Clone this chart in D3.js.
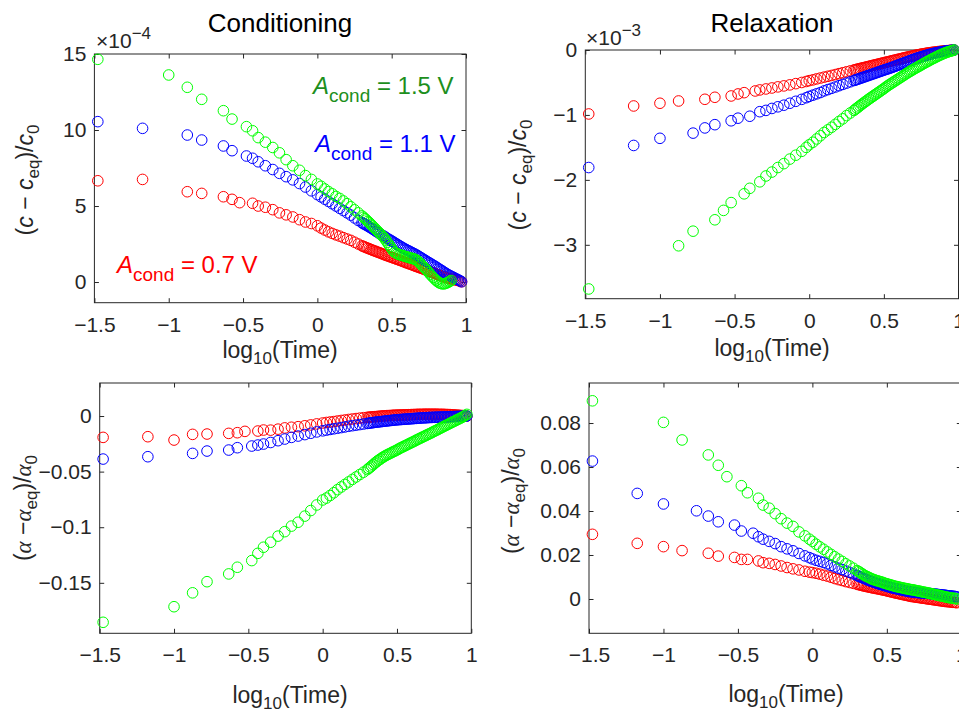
<!DOCTYPE html>
<html><head><meta charset="utf-8">
<script src="https://cdn.jsdelivr.net/npm/d3@7"></script>
<style>
body{margin:0;background:#fff}
svg{display:block}
text{font-family:"Liberation Sans",Arial,Helvetica,sans-serif}
</style>
</head><body>
<svg id="chart" width="959" height="713"></svg>
<script>
// ---------- DATA (log10 time) ----------
const condT = [-1.477,-1.176,-1.0,-0.875,-0.778,-0.632,-0.574,-0.523,-0.477,-0.436,-0.398,
  -0.35,-0.30,-0.255,-0.21,-0.165,-0.12,-0.08,-0.04,0.0,
  0.025,0.05,0.075,0.10,0.125,0.15,0.175,0.20,0.225,0.25,0.275,0.30,
  0.31,0.32,0.33,0.34,0.35,0.36,0.37,0.38,0.39,0.40,
  0.41,0.42,0.43,0.44,0.45,0.46,0.47,0.48,0.49,0.50,
  0.51,0.52,0.53,0.54,0.55,0.56,0.57,0.58,0.59,0.60,
  0.61,0.62,0.63,0.64,0.65,0.66,0.67,0.68,0.69,0.70,
  0.71,0.72,0.73,0.74,0.75,0.76,0.77,0.78,0.79,0.80,
  0.81,0.82,0.83,0.84,0.85,0.86,0.87,0.88,0.89,0.90,
  0.91,0.92,0.93,0.94,0.95,0.96,0.97];
const relT = [-1.477,-1.176,-1.0,-0.875,-0.778,-0.699,-0.632,-0.574,-0.523,-0.477,-0.436,-0.398,-0.362,-0.331,
  -0.29,-0.25,-0.21,-0.17,-0.13,-0.09,-0.05,-0.02,0.0,
  0.025,0.05,0.075,0.10,0.125,0.15,0.175,0.20,0.225,0.25,0.275,0.30,
  0.31,0.32,0.33,0.34,0.35,0.36,0.37,0.38,0.39,0.40,
  0.41,0.42,0.43,0.44,0.45,0.46,0.47,0.48,0.49,0.50,
  0.51,0.52,0.53,0.54,0.55,0.56,0.57,0.58,0.59,0.60,
  0.61,0.62,0.63,0.64,0.65,0.66,0.67,0.68,0.69,0.70,
  0.71,0.72,0.73,0.74,0.75,0.76,0.77,0.78,0.79,0.80,
  0.81,0.82,0.83,0.84,0.85,0.86,0.87,0.88,0.89,0.90,
  0.91,0.92,0.93,0.94,0.95,0.96,0.97];

// Conditioning, (c - c_eq)/c0  [x1e-4]
const condCRed = [6.66,6.75,null,5.94,5.83,5.61,5.44,5.22,null,5.18,5.0,
  4.92,4.76,4.55,4.42,4.28,4.1,3.95,3.85,3.7,
  3.55,3.42,3.3,3.2,3.1,3.02,2.92,2.83,2.74,2.62,2.5,2.38,
  2.34,2.30,2.26,2.22,2.18,2.14,2.10,2.06,2.03,1.99,
  1.95,1.92,1.88,1.84,1.80,1.76,1.73,1.69,1.66,1.62,
  1.59,1.55,1.52,1.48,1.45,1.41,1.38,1.34,1.30,1.26,
  1.23,1.19,1.16,1.12,1.08,1.04,1.01,0.97,0.94,0.90,
  0.87,0.83,0.79,0.75,0.72,0.68,0.64,0.60,0.56,0.52,
  0.49,0.45,0.42,0.38,0.35,0.31,0.28,0.25,0.22,0.20,
  0.18,0.16,0.14,0.12,0.09,0.06,0.02];
const condCBlue = [10.55,10.11,null,9.67,9.34,8.95,8.64,null,8.29,8.14,7.91,
  7.65,7.4,7.15,6.93,6.72,6.48,6.25,6.0,5.75,
  5.6,5.45,5.3,5.15,5.0,4.85,4.7,4.55,4.4,4.22,4.05,3.9,
  3.84,3.79,3.73,3.68,3.62,3.56,3.50,3.44,3.37,3.31,
  3.25,3.18,3.12,3.06,3.0,2.94,2.87,2.81,2.76,2.7,
  2.64,2.58,2.52,2.46,2.40,2.34,2.28,2.22,2.17,2.12,
  2.07,2.02,1.97,1.92,1.87,1.82,1.76,1.7,1.64,1.58,
  1.52,1.46,1.40,1.34,1.28,1.22,1.16,1.1,1.04,0.98,
  0.91,0.85,0.79,0.73,0.66,0.6,0.54,0.48,0.43,0.38,
  0.33,0.28,0.23,0.18,0.13,0.08,0.02];
const condCGreen = [14.65,null,13.62,12.81,12.02,11.27,10.72,null,10.22,9.95,9.5,
  9.2,8.85,8.5,8.05,7.65,7.35,7.0,6.75,6.45,
  6.3,6.12,5.95,5.8,5.63,5.5,5.33,5.15,4.95,4.75,4.55,4.35,
  4.26,4.17,4.08,3.99,3.9,3.8,3.7,3.6,3.5,3.4,
  3.3,3.2,3.1,3.0,2.9,2.76,2.62,2.48,2.34,2.2,
  2.07,1.95,1.9,1.85,1.81,1.78,1.75,1.72,1.69,1.66,
  1.63,1.6,1.57,1.55,1.52,1.48,1.42,1.35,1.25,1.15,
  1.05,0.95,0.85,0.75,0.62,0.5,0.4,0.3,0.2,0.1,
  0.02,-0.05,-0.09,-0.12,-0.12,-0.1,-0.06,-0.02,0.04,0.1,
  null,null,null,null,null,null,null];

// Conditioning, (alpha - alpha_eq)/alpha0
const condARed = [-0.0192,-0.0186,-0.0216,-0.0165,-0.0162,-0.0156,-0.015,-0.0138,null,-0.0135,-0.0126,
  -0.0127,-0.0118,-0.0107,-0.0101,-0.0096,-0.0088,-0.008,-0.0071,-0.0063,
  -0.0058,-0.0054,-0.005,-0.0045,-0.004,-0.0036,-0.0031,-0.0027,-0.0023,-0.0019,-0.0015,-0.0012,
  -0.0011,-0.001,-0.0008,-0.0007,-0.0006,-0.0005,-0.0004,-0.0003,-0.0001,0.0,
  0.0001,0.0002,0.0003,0.0004,0.0004,0.0005,0.0006,0.0007,0.0007,0.0008,
  0.0008,0.0009,0.0009,0.001,0.001,0.0011,0.0011,0.0012,0.0012,0.0013,
  0.0013,0.0014,0.0014,0.0015,0.0015,0.0015,0.0015,0.0016,0.0016,0.0016,
  0.0016,0.0016,0.0016,0.0016,0.0016,0.0016,0.0016,0.0015,0.0015,0.0015,
  0.0015,0.0014,0.0014,0.0013,0.0013,0.0012,0.0011,0.001,0.0009,0.0008,
  0.0007,0.0006,0.0005,0.0004,0.0003,0.0002,0.0];
const condABlue = [-0.0387,-0.0366,null,-0.0336,-0.0315,-0.0306,-0.0285,null,-0.027,-0.0261,-0.0252,
  -0.0238,-0.0222,-0.0207,-0.0192,-0.018,-0.0167,-0.0155,-0.0143,-0.0133,
  -0.0127,-0.0121,-0.0115,-0.011,-0.0104,-0.0098,-0.0092,-0.0087,-0.0082,-0.0077,-0.0072,-0.0067,
  -0.0065,-0.0063,-0.0061,-0.0059,-0.0057,-0.0055,-0.0054,-0.0052,-0.0051,-0.0049,
  -0.0047,-0.0046,-0.0044,-0.0043,-0.0041,-0.004,-0.0038,-0.0037,-0.0035,-0.0034,
  -0.0033,-0.0032,-0.0031,-0.003,-0.0029,-0.0028,-0.0027,-0.0026,-0.0025,-0.0024,
  -0.0023,-0.0022,-0.0021,-0.002,-0.0019,-0.0018,-0.0017,-0.0016,-0.0016,-0.0015,
  -0.0014,-0.0013,-0.0013,-0.0012,-0.0012,-0.0011,-0.0011,-0.001,-0.001,-0.0009,
  -0.0009,-0.0008,-0.0008,-0.0007,-0.0007,-0.0006,-0.0006,-0.0005,-0.0005,-0.0004,
  -0.0004,-0.0003,-0.0003,-0.0002,-0.0002,-0.0001,0.0];
const condAGreen = [-0.1855,null,-0.1715,-0.159,-0.149,-0.142,-0.136,null,-0.13,-0.1235,-0.118,
  -0.1135,-0.108,-0.104,-0.099,-0.0955,-0.09,-0.085,-0.08,-0.0755,
  -0.0738,-0.0715,-0.069,-0.0662,-0.0638,-0.0615,-0.0593,-0.057,-0.0548,-0.0526,-0.0505,-0.0482,
  -0.0471,-0.046,-0.0449,-0.0437,-0.0425,-0.0414,-0.0403,-0.0394,-0.0385,-0.0375,
  -0.0367,-0.0359,-0.0352,-0.0345,-0.0338,-0.0332,-0.0325,-0.0318,-0.0312,-0.0305,
  -0.0298,-0.029,-0.0283,-0.0277,-0.027,-0.0264,-0.0257,-0.025,-0.0244,-0.0237,
  -0.0231,-0.0224,-0.0217,-0.021,-0.0204,-0.0197,-0.0191,-0.0184,-0.0178,-0.0171,
  -0.0165,-0.0158,-0.0152,-0.0145,-0.0138,-0.0131,-0.0125,-0.0118,-0.0111,-0.0104,
  -0.0097,-0.009,-0.0084,-0.0077,-0.007,-0.0063,-0.0057,-0.005,-0.0044,-0.0037,
  -0.003,-0.0024,-0.0017,-0.001,-0.0003,0.0005,0.0015];

// Relaxation, (c - c_eq)/c0  [x1e-3]
const relCRed = [-0.985,-0.862,-0.82,-0.785,null,-0.759,-0.728,null,-0.708,-0.677,-0.657,null,-0.631,-0.615,
  -0.6,-0.585,-0.568,-0.553,-0.537,-0.518,-0.5,-0.485,-0.472,
  -0.46,-0.445,-0.432,-0.418,-0.405,-0.392,-0.378,-0.364,-0.35,-0.336,-0.322,-0.308,
  -0.302,-0.297,-0.291,-0.286,-0.28,-0.274,-0.269,-0.263,-0.258,-0.252,
  -0.246,-0.241,-0.235,-0.229,-0.224,-0.218,-0.213,-0.207,-0.202,-0.196,
  -0.19,-0.185,-0.18,-0.174,-0.168,-0.163,-0.158,-0.152,-0.146,-0.141,
  -0.136,-0.13,-0.124,-0.119,-0.114,-0.108,-0.103,-0.098,-0.093,-0.088,
  -0.083,-0.078,-0.073,-0.069,-0.064,-0.06,-0.056,-0.052,-0.048,-0.045,
  -0.041,-0.038,-0.035,-0.032,-0.029,-0.026,-0.023,-0.021,-0.018,-0.016,
  -0.013,-0.011,-0.009,-0.007,-0.005,-0.003,0.0];
const relCBlue = [-1.81,-1.47,-1.36,null,-1.28,-1.2,-1.15,null,-1.09,-1.05,null,-1.02,null,-0.95,
  -0.93,-0.9,-0.875,-0.85,-0.82,-0.79,-0.76,-0.735,-0.715,
  -0.695,-0.675,-0.655,-0.63,-0.61,-0.59,-0.57,-0.55,-0.53,-0.51,-0.49,-0.47,
  -0.462,-0.454,-0.446,-0.438,-0.43,-0.422,-0.414,-0.406,-0.398,-0.39,
  -0.382,-0.374,-0.366,-0.358,-0.35,-0.342,-0.334,-0.326,-0.318,-0.31,
  -0.302,-0.295,-0.288,-0.28,-0.272,-0.263,-0.255,-0.246,-0.238,-0.229,
  -0.22,-0.212,-0.203,-0.195,-0.186,-0.178,-0.169,-0.16,-0.152,-0.144,
  -0.136,-0.128,-0.12,-0.113,-0.106,-0.099,-0.092,-0.085,-0.078,-0.072,
  -0.066,-0.06,-0.054,-0.049,-0.044,-0.039,-0.034,-0.03,-0.026,-0.022,
  -0.018,-0.015,-0.012,-0.009,-0.006,-0.004,0.0];
const relCGreen = [-3.68,null,null,-3.015,-2.79,null,-2.615,-2.47,-2.35,null,-2.215,-2.13,null,-2.03,
  -1.94,-1.88,-1.81,-1.75,-1.68,-1.62,-1.56,-1.5,-1.46,
  -1.42,-1.37,-1.32,-1.27,-1.23,-1.19,-1.145,-1.1,-1.06,-1.01,-0.97,-0.93,
  -0.912,-0.894,-0.876,-0.858,-0.84,-0.822,-0.806,-0.789,-0.772,-0.755,
  -0.739,-0.723,-0.707,-0.691,-0.675,-0.659,-0.643,-0.627,-0.611,-0.595,
  -0.578,-0.56,-0.545,-0.53,-0.515,-0.5,-0.485,-0.47,-0.455,-0.44,
  -0.425,-0.41,-0.395,-0.38,-0.365,-0.35,-0.336,-0.323,-0.309,-0.296,
  -0.283,-0.27,-0.257,-0.244,-0.231,-0.218,-0.205,-0.192,-0.18,-0.167,
  -0.155,-0.143,-0.131,-0.12,-0.108,-0.097,-0.086,-0.075,-0.065,-0.055,
  -0.046,-0.037,-0.029,-0.022,-0.015,-0.009,0.0];

// Relaxation, (alpha - alpha_eq)/alpha0
const relARed = [0.0294,0.0253,0.0238,0.022,null,0.0208,0.0195,null,0.0189,0.018,0.018,null,0.0173,0.0165,
  0.0162,0.0157,0.015,0.0143,0.0137,0.0132,0.0126,0.0122,0.012,
  0.0117,0.0113,0.0108,0.0104,0.0099,0.0093,0.0088,0.0084,0.0079,0.0075,0.0071,0.0067,
  0.0065,0.0064,0.0062,0.006,0.0059,0.0057,0.0056,0.0054,0.0053,0.0051,
  0.005,0.0049,0.0047,0.0046,0.0045,0.0043,0.0042,0.004,0.0039,0.0037,
  0.0035,0.0034,0.0032,0.0031,0.0029,0.0027,0.0026,0.0024,0.0023,0.0021,
  0.002,0.0018,0.0017,0.0015,0.0014,0.0012,0.0011,0.001,0.0009,0.0008,
  0.0007,0.0006,0.0005,0.0004,0.0003,0.0002,0.0001,0.0,-0.0001,-0.0002,
  -0.0003,-0.0004,-0.0005,-0.0006,-0.0007,-0.0008,-0.0009,-0.001,-0.0011,-0.0012,
  -0.0012,-0.0013,-0.0014,-0.0015,-0.0015,-0.0016,-0.0017];
const relABlue = [0.0627,0.048,0.0432,null,0.0401,0.0377,0.0351,null,0.0336,0.0309,null,0.0299,0.0283,0.0272,
  0.0262,0.0252,0.0238,0.0228,0.0219,0.0207,0.0196,0.0188,0.0182,
  0.0176,0.0171,0.0166,0.016,0.0153,0.0146,0.014,0.0134,0.0127,0.0121,0.0114,0.0107,
  0.0104,0.0101,0.0098,0.0096,0.0093,0.009,0.0087,0.0084,0.0082,0.008,
  0.0077,0.0075,0.0072,0.007,0.0068,0.0066,0.0064,0.0062,0.006,0.0058,
  0.0056,0.0054,0.0052,0.005,0.0049,0.0047,0.0046,0.0044,0.0043,0.0041,
  0.004,0.0038,0.0037,0.0035,0.0034,0.0033,0.0032,0.0031,0.0031,0.003,
  0.0029,0.0028,0.0028,0.0027,0.0027,0.0026,0.0026,0.0025,0.0025,0.0024,
  0.0023,0.0022,0.0022,0.0021,0.002,0.0019,0.0019,0.0018,0.0017,0.0016,
  0.0015,0.0014,0.0014,0.0013,0.0012,0.0011,0.001];
const relAGreen = [0.0901,null,0.0803,0.0723,null,0.0655,0.0608,0.0556,null,0.0515,0.0483,null,0.0458,0.0427,
  0.0413,0.0388,0.0365,0.0345,0.033,0.0305,0.0287,0.0272,0.0262,
  0.0249,0.0237,0.0226,0.0214,0.0203,0.0192,0.0181,0.0171,0.016,0.015,0.014,0.0129,
  0.0125,0.0121,0.0116,0.0112,0.0107,0.0104,0.0101,0.0098,0.0094,0.0091,
  0.0089,0.0086,0.0084,0.0082,0.008,0.0078,0.0076,0.0073,0.0071,0.0069,
  0.0067,0.0065,0.0063,0.0061,0.0059,0.0057,0.0056,0.0054,0.0053,0.0051,
  0.005,0.0048,0.0047,0.0046,0.0044,0.0043,0.0042,0.0041,0.0039,0.0038,
  0.0037,0.0035,0.0034,0.0032,0.0031,0.003,0.0028,0.0027,0.0025,0.0024,
  0.0022,0.0021,0.0019,0.0018,0.0016,0.0015,0.0013,0.0012,0.001,0.0009,
  0.0007,0.0006,0.0005,0.0004,0.0003,0.0002,0.0];

// Tick values
const xTickVals = [-1.5,-1,-0.5,0,0.5,1];
const condCTicks = [0,5,10,15];
const relCTicks = [-3,-2,-1,0];
const condATicks = [-0.15,-0.1,-0.05,0];
const relATicks = [0,0.02,0.04,0.06,0.08];

const seriesColors = ["#ff0000","#0000ff","#00ff00"];
const titles = ["Conditioning","Relaxation"];
const annotations = [
  {label:"1.5", color:"#1d8f1d"},
  {label:"1.1", color:"#0000ff"},
  {label:"0.7", color:"#ff0000"}
];

// ---------- LAYOUT ----------
const AX = "#262626";
const svg = d3.select("#chart");
const fmt = d => d === 0 ? "0" : String(d).replace("-", "\u2212");

const panels = [
  {t:condT, ys:[condCRed,condCBlue,condCGreen], xr:[94.4,466], yr:[302.7,54], yd:[-1.36,15], yt:condCTicks,
   kind:"c", exp:"\u22124", expX:96, expY:48, ylx:33, yly:180, xlx:280, xly:358},
  {t:relT, ys:[relCRed,relCBlue,relCGreen], xr:[585.3,958.5], yr:[298.7,50], yd:[-3.83,0], yt:relCTicks,
   kind:"c", exp:"\u22123", expX:586, expY:45, ylx:526, yly:175, xlx:772, xly:356},
  {t:condT, ys:[condARed,condABlue,condAGreen], xr:[99.7,471.3], yr:[633.3,383], yd:[-0.1954,0.0297], yt:condATicks,
   kind:"a", ylx:31, yly:508, xlx:290, xly:703},
  {t:relT, ys:[relARed,relABlue,relAGreen], xr:[589,961.3], yr:[633.3,383], yd:[-0.0156,0.0982], yt:relATicks,
   kind:"a", ylx:519, yly:501, xlx:786, xly:702}
];

panels.forEach((p) => {
  const x = d3.scaleLinear().domain([-1.5,1]).range(p.xr);
  const y = d3.scaleLinear().domain(p.yd).range(p.yr);
  const g = svg.append("g");
  const tick = 4.5;

  const styleAxis = (sel) => {
    sel.select(".domain").remove();
    sel.selectAll(".tick line").attr("stroke", AX).attr("stroke-width", 1);
    sel.selectAll(".tick text").attr("fill", AX);
    sel.attr("font-size", 21).attr("font-family", '"Liberation Sans",Arial,sans-serif');
  };

  g.append("g").attr("transform", `translate(0,${p.yr[0]})`)
    .call(d3.axisBottom(x).tickValues(xTickVals).tickFormat(fmt).tickSizeInner(-tick).tickSizeOuter(0).tickPadding(14))
    .call(styleAxis);
  g.append("g").attr("transform", `translate(0,${p.yr[1]})`)
    .call(d3.axisTop(x).tickValues(xTickVals).tickFormat("").tickSizeInner(-tick).tickSizeOuter(0))
    .call(styleAxis);
  g.append("g").attr("transform", `translate(${p.xr[0]},0)`)
    .call(d3.axisLeft(y).tickValues(p.yt).tickFormat(fmt).tickSizeInner(-tick).tickSizeOuter(0).tickPadding(8))
    .call(styleAxis);
  g.append("g").attr("transform", `translate(${p.xr[1]},0)`)
    .call(d3.axisRight(y).tickValues(p.yt).tickFormat("").tickSizeInner(-tick).tickSizeOuter(0))
    .call(styleAxis);

  g.append("rect").attr("x", p.xr[0]).attr("y", p.yr[1])
    .attr("width", p.xr[1]-p.xr[0]).attr("height", p.yr[0]-p.yr[1])
    .attr("fill","none").attr("stroke", AX).attr("stroke-width", 1);

  // markers: red, blue, green (green on top)
  p.ys.forEach((vals, si) => {
    const pts = p.t.map((tv, i) => [tv, vals[i]]).filter(d => d[1] !== null && d[1] !== undefined);
    g.append("g").selectAll("circle").data(pts).join("circle")
      .attr("cx", d => x(d[0])).attr("cy", d => y(d[1])).attr("r", 5.3)
      .attr("fill", "none").attr("stroke", seriesColors[si]).attr("stroke-width", 1);
  });

  // exponent label
  if (p.exp) {
    const e = g.append("text").attr("x", p.expX).attr("y", p.expY).attr("fill", AX).attr("font-size", 21);
    e.append("tspan").text("\u00d710");
    e.append("tspan").attr("dy", -9).attr("font-size", 17).text(p.exp);
  }

  // x label
  const xl = g.append("text").attr("x", p.xlx).attr("y", p.xly).attr("text-anchor","middle")
    .attr("fill", AX).attr("font-size", 23);
  xl.append("tspan").text("log");
  xl.append("tspan").attr("dy", 6).attr("font-size", 17).text("10");
  xl.append("tspan").attr("dy", -6).text("(Time)");

  // y label
  const yl = g.append("text").attr("transform", `translate(${p.ylx},${p.yly}) rotate(-90)`)
    .attr("text-anchor","middle").attr("fill", AX).attr("font-size", 23);
  if (p.kind === "c") {
    yl.append("tspan").text("(");
    yl.append("tspan").attr("font-style","italic").text("c");
    yl.append("tspan").text(" \u2212 ");
    yl.append("tspan").attr("font-style","italic").text("c");
    yl.append("tspan").attr("dy", 6).attr("font-size", 17).text("eq");
    yl.append("tspan").attr("dy", -6).text(")/");
    yl.append("tspan").attr("font-style","italic").text("c");
    yl.append("tspan").attr("dy", 6).attr("font-size", 17).text("0");
  } else {
    const al = (s) => s.append("tspan").attr("font-style","italic")
      .attr("font-family",'"Liberation Serif","DejaVu Serif",serif').text("\u03b1");
    yl.append("tspan").text("(");
    al(yl);
    yl.append("tspan").text(" \u2212");
    al(yl);
    yl.append("tspan").attr("dy", 6).attr("font-size", 17).text("eq");
    yl.append("tspan").attr("dy", -6).text(")/");
    al(yl);
    yl.append("tspan").attr("dy", 6).attr("font-size", 17).text("0");
  }
});

// titles
svg.append("text").attr("x", 280).attr("y", 32).attr("text-anchor","middle")
  .attr("font-size", 26).attr("fill","#000").text(titles[0]);
svg.append("text").attr("x", 772).attr("y", 32).attr("text-anchor","middle")
  .attr("font-size", 26).attr("fill","#000").text(titles[1]);

// annotations in the Conditioning c panel
const annPos = [[313,94],[315,152],[117,273]];
annotations.forEach((a, i) => {
  const t = svg.append("text").attr("x", annPos[i][0]).attr("y", annPos[i][1])
    .attr("fill", a.color).attr("font-size", 24);
  t.append("tspan").attr("font-style","italic").text("A");
  t.append("tspan").attr("dy", 8).attr("font-size", 19).text("cond");
  t.append("tspan").attr("dy", -8).text(" = " + a.label + " V");
});
</script>
</body></html>
